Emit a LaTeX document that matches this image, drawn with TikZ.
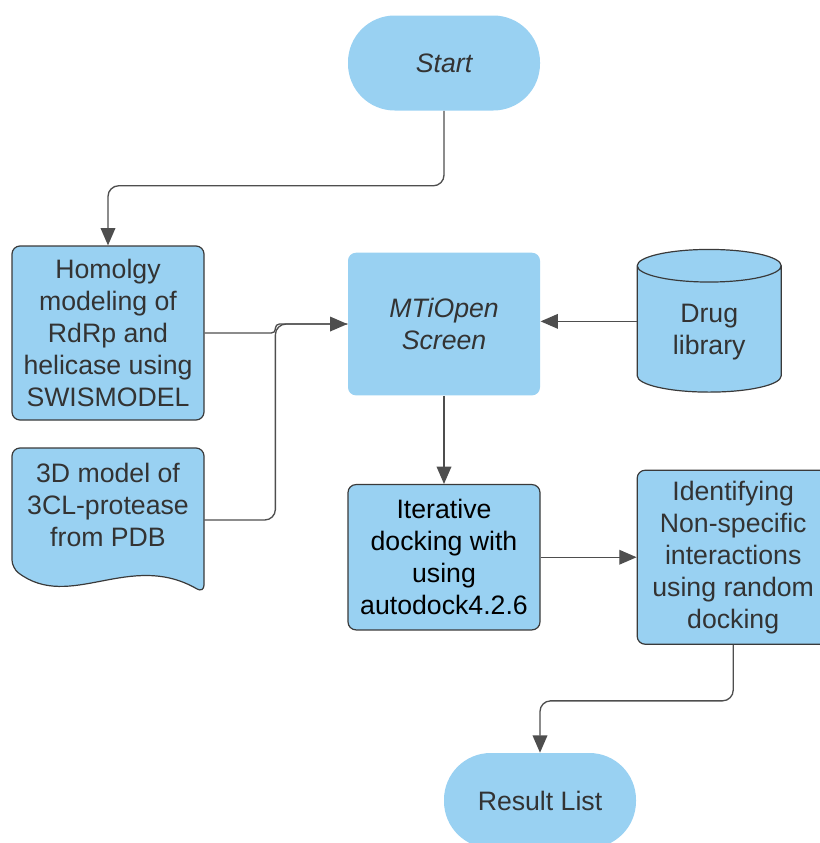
\documentclass[tikz,border=0pt]{standalone}
\usepackage{fontspec}
\setmainfont{Liberation Sans}
\usetikzlibrary{positioning, arrows.meta, shapes.geometric, calc}
\definecolor{boxblue}{RGB}{153,209,242}
\definecolor{edgegray}{RGB}{58,58,58}
\definecolor{txtgray}{RGB}{51,51,51}

\begin{document}
\begin{tikzpicture}[
  x=0.75pt, y=-0.75pt,
  font=\fontsize{20}{24}\selectfont,
  node distance=66pt,
  box/.style={rectangle, draw=edgegray, line width=0.9pt, rounded corners=6pt, fill=boxblue, text=txtgray, minimum width=144pt, align=center, inner sep=2pt},
  plainbox/.style={box, draw=none},
  terminal/.style={rectangle, rounded corners=35pt, fill=boxblue, text=txtgray, minimum width=144pt, minimum height=71.25pt, align=center},
  drum/.style={cylinder, shape border rotate=90, aspect=0.4, draw=edgegray, line width=0.9pt, fill=boxblue, text=txtgray, minimum width=108pt, minimum height=107pt, align=center},
  arr/.style={-{Triangle[length=13pt, width=11pt]}, draw=edgegray!90, line width=1pt, rounded corners=8pt},
  link/.style={draw=edgegray!90, line width=1pt, rounded corners=8pt}
]
  \useasboundingbox (0,0) rectangle (819,843);

  \node[terminal, font=\fontsize{20}{24}\selectfont\itshape] (start) at (444,63) {Start};
  \node[plainbox, below=106pt of start, minimum height=107pt, font=\fontsize{20}{24}\selectfont\itshape] (mti) {MTiOpen\\Screen};
  \node[box, below=66pt of mti, minimum height=109pt, text=black] (iter) {Iterative\\docking with\\using\\autodock4.2.6};
  \node[drum, right=72pt of mti, yshift=-6pt] (drug) {Drug\\library};
  \node[box, right=72pt of iter, minimum height=130.5pt] (ident) {Identifying\\Non-specific\\interactions\\using random\\docking};
  \node[box, minimum height=130.5pt] (homol) at (108,333) {Homolgy\\modeling of\\RdRp and\\helicase using\\SWISMODEL};
  \node[terminal] (result) at (540,800.5) {Result List};

  % document shape for the PDB entry
  \draw[edgegray, line width=0.9pt, fill=boxblue, rounded corners=6pt] (108,448) -- (204,448) -- (204,593) .. controls (130,550) and (70,612) .. (12,568) -- (12,448) -- cycle;
  \node[text=txtgray, align=center, minimum width=144pt, minimum height=85pt] (pdb) at (108,505) {3D model of\\3CL-protease\\from PDB};

  \coordinate (join) at ($(mti.west)+(-54pt,0)$);
  \draw[arr] (start.south) -- ++(0,75) -| (homol.north);
  \draw[arr, rounded corners=3pt] (homol.east) -- (homol.east -| join) -- (join) -- (mti.west);
  \draw[link] ([yshift=-11.25pt]pdb.east) -| (join) -- (mti.west);
  \draw[arr] ([yshift=2pt]mti.east -| drug.west) -- ([yshift=2pt]mti.east);
  \draw[arr] (mti.south) -- (iter.north);
  \draw[arr] (iter.east) -- (ident.west);
  \draw[arr] (ident.south) -- ++(0,56) -| (result.north);
\end{tikzpicture}
\end{document}
